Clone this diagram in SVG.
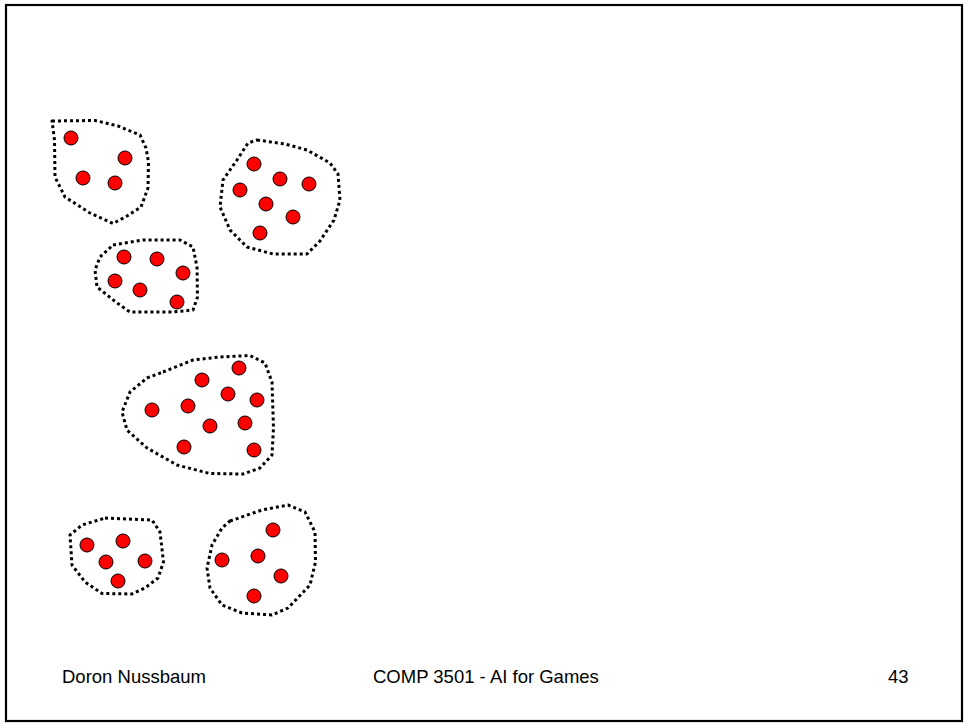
<svg xmlns="http://www.w3.org/2000/svg" width="966" height="723" viewBox="0 0 966 723">
<style>
.b{fill:none;stroke:#000;stroke-width:3;stroke-dasharray:3 3;stroke-linejoin:round}
.d{fill:#ff0000;stroke:#000;stroke-width:1}
.t{font-family:"Liberation Sans",Arial,sans-serif;font-size:18.5px;fill:#000}
</style>
<rect x="0" y="0" width="966" height="723" fill="#fff"/>
<rect x="6" y="5" width="956" height="716" fill="none" stroke="#000" stroke-width="2.2"/>
<g id="connectors"></g>
<g id="cluster1">
<path class="b" d="M52,121 L95,120.5 L118,126 L140,135 L146,148 L148.5,162 L148,188 L141,207 L127,216 L113,223.5 L90,213 L65,197 L55,177 L54.5,140 Z"/>
<circle class="d" cx="71" cy="138" r="7"/>
<circle class="d" cx="125" cy="158" r="7"/>
<circle class="d" cx="83" cy="178" r="7"/>
<circle class="d" cx="115" cy="183" r="7"/>
</g>
<g id="cluster2">
<path class="b" d="M257,140 L285,144 L307,150 L330,163 L338,174 L340,200 L334,220 L320,241 L307,254 L273,254 L247,247 L230,230 L220,207 L223,180 L237,160 L248,143 Z"/>
<circle class="d" cx="254" cy="164" r="7"/>
<circle class="d" cx="280" cy="179" r="7"/>
<circle class="d" cx="309" cy="184" r="7"/>
<circle class="d" cx="240" cy="190" r="7"/>
<circle class="d" cx="266" cy="204" r="7"/>
<circle class="d" cx="293" cy="217" r="7"/>
<circle class="d" cx="260" cy="233" r="7"/>
</g>
<g id="cluster3">
<path class="b" d="M113,245 L143,240 L180,240 L193,247 L197,267 L197.5,297 L193,310 L173,312 L130,312 L117,303 L97,287 L95,270 L100,257 Z"/>
<circle class="d" cx="124" cy="257" r="7"/>
<circle class="d" cx="157" cy="259" r="7"/>
<circle class="d" cx="183" cy="273" r="7"/>
<circle class="d" cx="115" cy="281" r="7"/>
<circle class="d" cx="140" cy="290" r="7"/>
<circle class="d" cx="177" cy="302" r="7"/>
</g>
<g id="cluster4">
<path class="b" d="M163,372 L193,360 L220,357 L250,355.5 L265,363 L272,382 L273.5,428 L272,455 L260,468 L243,474 L210,473.5 L177,465 L147,448 L127,430 L122,412 L130,392 L147,378 Z"/>
<circle class="d" cx="239" cy="368" r="7"/>
<circle class="d" cx="202" cy="380" r="7"/>
<circle class="d" cx="228" cy="394" r="7"/>
<circle class="d" cx="257" cy="400" r="7"/>
<circle class="d" cx="152" cy="410" r="7"/>
<circle class="d" cx="188" cy="406" r="7"/>
<circle class="d" cx="210" cy="426" r="7"/>
<circle class="d" cx="245" cy="423" r="7"/>
<circle class="d" cx="184" cy="447" r="7"/>
<circle class="d" cx="254" cy="450" r="7"/>
</g>
<g id="cluster5">
<path class="b" d="M105,518 L152,520 L160,532 L163.5,562 L158,578 L145,588 L132,594 L102,593.5 L85,582 L72,565 L70,535 L82,525 Z"/>
<circle class="d" cx="87" cy="545" r="7"/>
<circle class="d" cx="123" cy="541" r="7"/>
<circle class="d" cx="106" cy="562" r="7"/>
<circle class="d" cx="145" cy="561" r="7"/>
<circle class="d" cx="118" cy="581" r="7"/>
</g>
<g id="cluster6">
<path class="b" d="M230,521 L262,510 L288,505 L305,512 L315,532 L315.5,562 L310,585 L288,608 L272,615 L242,613 L222,605 L210,588 L207,568 L212,545 L222,528 Z"/>
<circle class="d" cx="273" cy="530" r="7"/>
<circle class="d" cx="222" cy="560" r="7"/>
<circle class="d" cx="258" cy="556" r="7"/>
<circle class="d" cx="281" cy="576" r="7"/>
<circle class="d" cx="254" cy="596" r="7"/>
</g>
<g id="footer">
<text class="t" x="62" y="683">Doron Nussbaum</text>
<text class="t" x="373" y="683">COMP 3501 - AI for Games</text>
<text class="t" x="888" y="683">43</text>
</g>
</svg>
